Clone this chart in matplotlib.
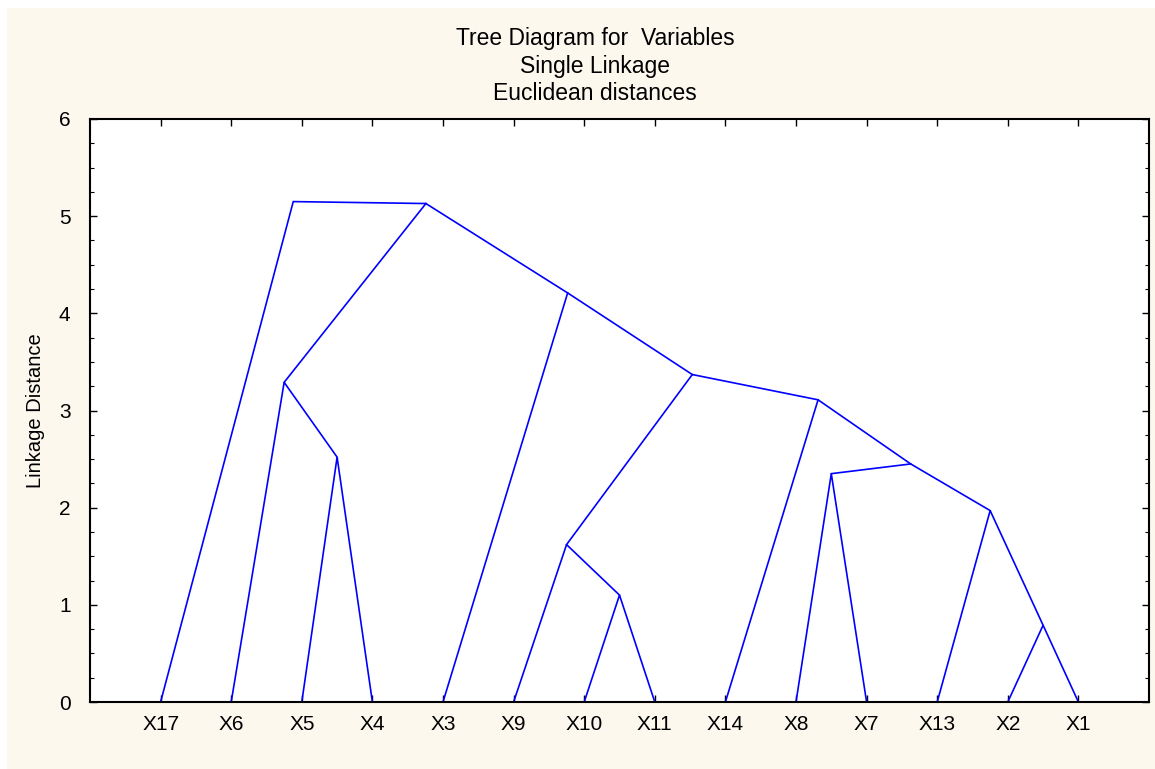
import matplotlib.pyplot as plt
from matplotlib.patches import Rectangle
from matplotlib.ticker import MultipleLocator

# leaves in plotting order (left to right)
leaves = ['X17', 'X6', 'X5', 'X4', 'X3', 'X9', 'X10', 'X11',
          'X14', 'X8', 'X7', 'X13', 'X2', 'X1']

# merges: ids 0..13 are leaves, each merge makes a new id (14, 15, ...)
left_child = [12, 6, 5, 11, 9, 18, 2, 8, 1, 16, 4, 22, 0]
right_child = [13, 7, 15, 14, 10, 17, 3, 19, 20, 21, 23, 24, 25]
heights = [0.79, 1.10, 1.62, 1.97, 2.35, 2.45, 2.52, 3.11, 3.29, 3.37, 4.21, 5.13, 5.15]

plt.rcParams['font.family'] = ['Liberation Sans', 'DejaVu Sans']

fig = plt.figure(figsize=(11.55, 7.69), dpi=100, facecolor='white')
bg = Rectangle((7/1155, -0.05), 1.1, 0.05 + (769-8)/769, transform=fig.transFigure,
               facecolor='#fcf8ee', edgecolor='none', zorder=-10)
fig.add_artist(bg)

ax = fig.add_axes([90/1155, 67/769, 1059/1155, 583/769])
ax.set_facecolor('white')

# positions of every node
xs = [i + 1 for i in range(len(leaves))]
ys = [0.0] * len(leaves)
for a, b, h in zip(left_child, right_child, heights):
    xn = (xs[a] + xs[b]) / 2
    ax.plot([xs[a], xn, xs[b]], [ys[a], h, ys[b]], color='#0000ff', lw=1.2,
            solid_joinstyle='miter')
    xs.append(xn)
    ys.append(h)

ax.set_xlim(0, len(leaves) + 1)
ax.set_ylim(0, 6)
ax.set_xticks(range(1, len(leaves) + 1))
ax.set_xticklabels(leaves)
ax.yaxis.set_major_locator(MultipleLocator(1))
ax.yaxis.set_minor_locator(MultipleLocator(0.25))
ax.tick_params(axis='both', which='major', direction='in', length=5, width=1,
               labelsize=15, top=True, right=True, pad=9)
ax.tick_params(axis='y', which='minor', direction='in', length=3, width=0.8, right=True)
ax.tick_params(axis='y', pad=14)
for s in ax.spines.values():
    s.set_linewidth(1.5)

ax.set_ylabel('Linkage Distance', fontsize=14.5, labelpad=10)

cx = 595 / 1155
fig.text(cx, 1 - 38/769, 'Tree Diagram for  Variables', ha='center', va='center', fontsize=16.5)
fig.text(cx, 1 - 66/769, 'Single Linkage', ha='center', va='center', fontsize=16.5)
fig.text(cx, 1 - 93/769, 'Euclidean distances', ha='center', va='center', fontsize=16.5)

fig.savefig('out.png', dpi=100, facecolor=fig.get_facecolor())
